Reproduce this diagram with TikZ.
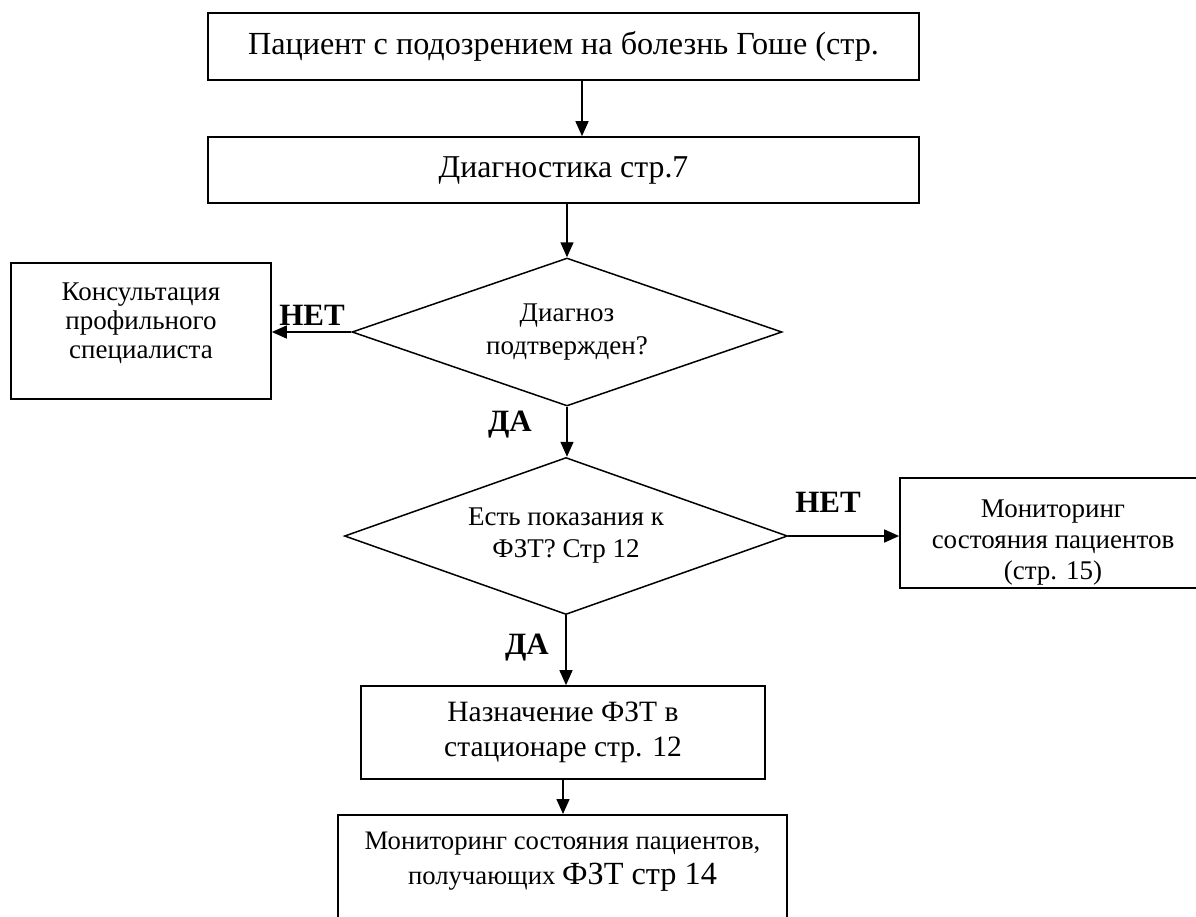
\documentclass[tikz,border=0pt]{standalone}
\usepackage{fontspec}
\setmainfont{Liberation Serif}
\usetikzlibrary{shapes.geometric,arrows.meta}
\begin{document}
\begin{tikzpicture}[x=1pt,y=-1pt,
  box/.style={draw, line width=1.7pt, rectangle, inner sep=0pt, align=center},
  dia/.style={draw, line width=1.5pt, diamond, inner sep=0pt, align=center},
  arr/.style={line width=1.5pt, -{Triangle[length=15pt,width=13pt]}},
  lbl/.style={font=\fontsize{31}{31}\selectfont\bfseries, inner sep=0pt},
]
\useasboundingbox (0,0) rectangle (1196,916);
\clip (0,0) rectangle (1196,916);
\fill[white] (0,0) rectangle (1196,916);

\node[box, minimum width=711pt, minimum height=67pt, font=\fontsize{32.2}{36}\selectfont] (b1) at (563.5,46.5) {Пациент с подозрением на болезнь Гоше (стр.};
\node[box, minimum width=711pt, minimum height=66pt, font=\fontsize{31.8}{36}\selectfont] (b2) at (563.5,170) {Диагностика стр.7};

\node[dia, minimum width=430pt, minimum height=148pt, aspect=2.9, font=\fontsize{27}{33}\selectfont] (d1) at (567,332) {Диагноз\\подтвержден?};

\node[box, minimum width=260pt, minimum height=136pt, font=\fontsize{27}{29}\selectfont] (lb) at (141,331) {Консультация\\профильного\\специалиста\rule[-20pt]{0pt}{0pt}};

\node[dia, minimum width=443pt, minimum height=157pt, aspect=2.8, font=\fontsize{27}{32}\selectfont] (d2) at (566,536) {Есть показания к\\ФЗТ? Стр 12};

\node[box, minimum width=306pt, minimum height=110pt, font=\fontsize{27}{31}\selectfont] (rb) at (1053,533) {\rule{0pt}{36pt}Мониторинг\\состояния пациентов\\(стр. 15)};

\node[box, minimum width=404pt, minimum height=93pt, font=\fontsize{29.5}{35}\selectfont] (b3) at (563,732.5) {Назначение ФЗТ в\\стационаре стр. 12};

\node[box, minimum width=449pt, anchor=north, font=\fontsize{26.7}{35}\selectfont] (b4) at (562.5,814) {\rule{0pt}{35pt}Мониторинг состояния пациентов,\\получающих {\fontsize{32.3}{35}\selectfont ФЗТ стр 14}\rule[-60pt]{0pt}{0pt}};

\coordinate (x1) at (582,0);
\draw[arr] (b1.south -| x1) -- (b2.north -| x1);
\draw[arr] (b2.south -| d1.north) -- (d1.north);
\draw[arr] (d1.west) -- (d1.west -| lb.east);
\draw[arr] (d1.south) -- (d1.south |- d2.north);
\draw[arr] (d2.east) -- (d2.east -| rb.west);
\draw[arr] (d2.south) -- (d2.south |- b3.north);
\draw[arr] (b3.south) -- (b3.south |- b4.north);

\node[lbl] (n1) at (312,315) {НЕТ};
\node[lbl] (y1) at (510,425) {ДА};
\node[lbl] (n2) at (828,502) {НЕТ};
\node[lbl] (y2) at (527,648) {ДА};
\end{tikzpicture}
\end{document}
